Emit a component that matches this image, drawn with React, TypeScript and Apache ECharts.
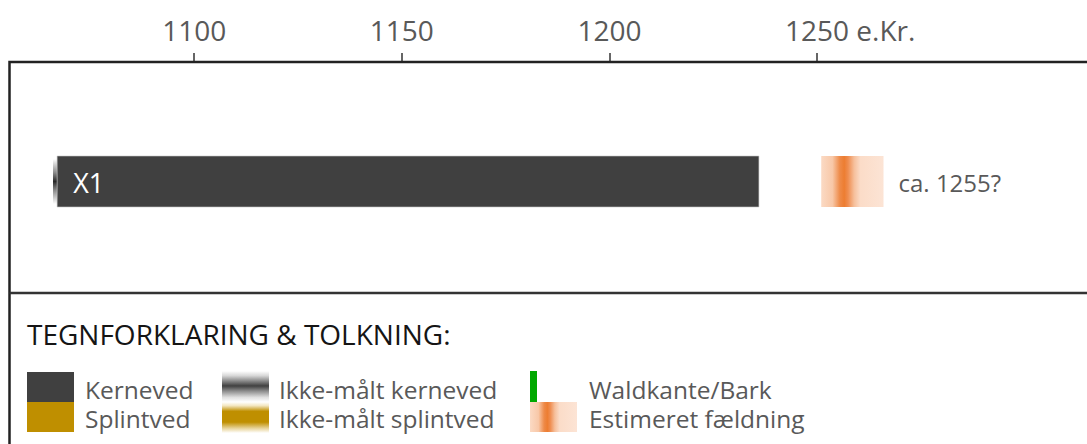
import React, { useEffect, useRef } from "react";
import * as echarts from "echarts";

// ---- data ----
const sampleIds: string[] = ["X1"];
const unmeasuredHeartStart: number[] = [1066];
const measuredStart: number[] = [1067];
const measuredEnd: number[] = [1236];
const fellingFrom: number[] = [1251];
const fellingTo: number[] = [1266];
const fellingLabels: string[] = ["ca. 1255?"];
const tickYears: number[] = [1100, 1150, 1200, 1250];
const axisUnit = "e.Kr.";
const axisMin = 1055;
const axisMax = 1315;

const legendTitle = "TEGNFORKLARING & TOLKNING:";
const legendLabels: string[] = [
  "Kerneved",
  "Splintved",
  "Ikke-målt kerneved",
  "Ikke-målt splintved",
  "Waldkante/Bark",
  "Estimeret fældning",
];

const FONT = '"Open Sans", "Noto Sans", sans-serif';
const TEXT_GRAY = "#595959";
const HEART = "#404040";
const SAP = "#bf8f00";
const GREEN = "#00a800";

const fellingStops = () =>
  new echarts.graphic.LinearGradient(0, 0, 1, 0, [
    { offset: 0, color: "#fbdac4" },
    { offset: 0.18, color: "#f8c8a8" },
    { offset: 0.3, color: "#ee8a48" },
    { offset: 0.37, color: "#ed7d31" },
    { offset: 0.43, color: "#ef8d50" },
    { offset: 0.53, color: "#f6c09c" },
    { offset: 0.63, color: "#fbdcc8" },
    { offset: 1, color: "#fce4d5" },
  ]);

function measure(text: string, font: string): number {
  const c = document.createElement("canvas").getContext("2d");
  if (!c) return 72;
  c.font = font;
  return c.measureText(text).width;
}

export default function App() {
  const ref = useRef<HTMLDivElement>(null);

  useEffect(() => {
    if (!ref.current) return;
    const chart = echarts.init(ref.current, undefined, { renderer: "svg" });

    const tickFont = 28;
    const unitText = " " + axisUnit;
    const unitWidth = measure(unitText, `${tickFont}px "Open Sans"`);
    const lastTick = tickYears[tickYears.length - 1];

    const seriesData = sampleIds.map((_, i) => [
      i,
      measuredStart[i],
      measuredEnd[i],
      unmeasuredHeartStart[i],
      fellingFrom[i],
      fellingTo[i],
    ]);

    const barH = 51;

    const renderItem = (params: any, api: any) => {
      const idx = api.value(0);
      const s = api.coord([api.value(1), idx]);
      const e = api.coord([api.value(2), idx]);
      const u = api.coord([api.value(3), idx]);
      const ff = api.coord([api.value(4), idx]);
      const ft = api.coord([api.value(5), idx]);
      const yTop = s[1] - barH / 2;
      return {
        type: "group",
        children: [
          {
            type: "rect",
            shape: { x: u[0], y: yTop + 3, width: s[0] - u[0], height: barH - 6 },
            style: {
              fill: new echarts.graphic.LinearGradient(0, 0, 0, 1, [
                { offset: 0, color: "rgba(64,64,64,0)" },
                { offset: 0.3, color: "rgba(64,64,64,0.6)" },
                { offset: 0.5, color: "rgba(40,40,40,1)" },
                { offset: 0.7, color: "rgba(64,64,64,0.6)" },
                { offset: 1, color: "rgba(64,64,64,0)" },
              ]),
            },
          },
          {
            type: "rect",
            shape: { x: s[0], y: yTop, width: e[0] - s[0], height: barH },
            style: { fill: HEART, stroke: "#c8c8c8", lineWidth: 0.6 },
          },
          {
            type: "text",
            x: s[0] + 16,
            y: s[1] + 1,
            style: {
              text: sampleIds[params.dataIndex],
              fill: "#ffffff",
              fontSize: 27,
              fontFamily: FONT,
              align: "left",
              verticalAlign: "middle",
            },
          },
          {
            type: "rect",
            shape: { x: ff[0], y: yTop, width: ft[0] - ff[0], height: barH },
            style: { fill: fellingStops() },
          },
          {
            type: "text",
            x: ft[0] + 15,
            y: s[1] + 1,
            style: {
              text: fellingLabels[params.dataIndex],
              fill: TEXT_GRAY,
              fontSize: 24,
              fontFamily: FONT,
              align: "left",
              verticalAlign: "middle",
            },
          },
        ],
      };
    };

    const legendText = (text: string, x: number, y: number) => ({
      type: "text",
      x,
      y,
      style: {
        text,
        fill: TEXT_GRAY,
        fontSize: 24.5,
        lineHeight: 26,
        fontFamily: FONT,
        align: "left",
        verticalAlign: "middle",
      },
    });

    const graphic: any[] = [
      // frame
      {
        type: "rect",
        shape: { x: 9.5, y: 62, width: 1200, height: 500 },
        style: { fill: "none", stroke: "#222", lineWidth: 2.5 },
        z: 10,
      },
      {
        type: "line",
        shape: { x1: 9.5, y1: 293, x2: 1200, y2: 293 },
        style: { stroke: "#333", lineWidth: 2.5 },
        z: 10,
      },
      {
        type: "text",
        x: 27,
        y: 334,
        style: {
          text: legendTitle,
          fill: "#151515",
          fontSize: 28,
          fontFamily: FONT,
          align: "left",
          verticalAlign: "middle",
        },
      },
      // col 1
      { type: "rect", shape: { x: 27, y: 372, width: 47, height: 30 }, style: { fill: HEART } },
      { type: "rect", shape: { x: 27, y: 402, width: 47, height: 30 }, style: { fill: SAP } },
      legendText(legendLabels[0], 85, 389),
      legendText(legendLabels[1], 85, 418),
      // col 2
      {
        type: "rect",
        shape: { x: 222, y: 371, width: 47, height: 31 },
        style: {
          fill: new echarts.graphic.LinearGradient(0, 0, 0, 1, [
            { offset: 0, color: "#ffffff" },
            { offset: 0.15, color: "#d8d8d8" },
            { offset: 0.32, color: "#8a8a8a" },
            { offset: 0.48, color: "#404040" },
            { offset: 0.64, color: "#8a8a8a" },
            { offset: 0.85, color: "#e0e0e0" },
            { offset: 1, color: "#ffffff" },
          ]),
        },
      },
      {
        type: "rect",
        shape: { x: 222, y: 402, width: 47, height: 31 },
        style: {
          fill: new echarts.graphic.LinearGradient(0, 0, 0, 1, [
            { offset: 0, color: "#ffffff" },
            { offset: 0.12, color: "#f3e6c0" },
            { offset: 0.3, color: "#bf8f00" },
            { offset: 0.65, color: "#bf8f00" },
            { offset: 0.85, color: "#e8d49a" },
            { offset: 1, color: "#ffffff" },
          ]),
        },
      },
      legendText(legendLabels[2], 279, 389),
      legendText(legendLabels[3], 279, 418),
      // col 3
      { type: "rect", shape: { x: 530, y: 371, width: 7, height: 31 }, style: { fill: GREEN } },
      {
        type: "rect",
        shape: { x: 530, y: 402, width: 47, height: 30 },
        style: { fill: fellingStops() },
      },
      legendText(legendLabels[4], 589, 389),
      legendText(legendLabels[5], 589, 418),
    ];

    chart.setOption({
      animation: false,
      backgroundColor: "#ffffff",
      textStyle: { fontFamily: FONT },
      grid: { left: 7.3, top: 62, width: 1080.6, height: 239, containLabel: false },
      xAxis: {
        type: "value",
        position: "top",
        min: axisMin,
        max: axisMax,
        splitLine: { show: false },
        axisLine: { show: false },
        axisTick: {
          show: true,
          length: 9,
          inside: false,
          customValues: tickYears,
          lineStyle: { color: "#333", width: 1.5 },
        },
        axisLabel: {
          show: true,
          customValues: tickYears,
          margin: 18,
          color: TEXT_GRAY,
          fontSize: tickFont,
          fontFamily: FONT,
          formatter: (v: number) =>
            v === lastTick ? `{h| }{n|${v}}{u|${unitText}}` : `{n|${v}}`,
          rich: {
            n: { color: TEXT_GRAY, fontSize: tickFont, fontFamily: FONT },
            u: { color: TEXT_GRAY, fontSize: tickFont, fontFamily: FONT },
            h: { width: unitWidth, fontSize: tickFont, fontFamily: FONT },
          },
        },
      },
      yAxis: {
        type: "category",
        data: sampleIds,
        show: false,
      },
      series: [
        {
          type: "custom",
          renderItem,
          data: seriesData,
          encode: { x: [1, 2], y: 0 },
          clip: false,
        },
      ],
      graphic,
    });

    return () => chart.dispose();
  }, []);

  return (
    <div
      ref={ref}
      style={{ position: "fixed", left: 0, top: 0, width: 1087, height: 444 }}
    />
  );
}
